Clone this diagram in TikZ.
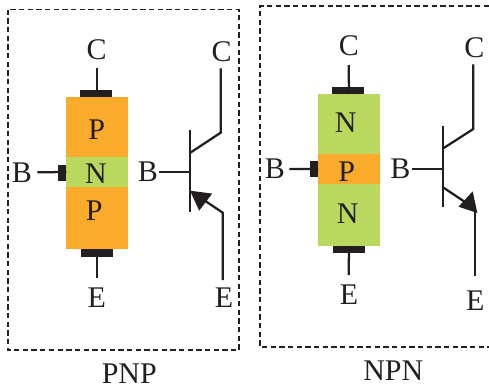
\documentclass[tikz,border=0pt]{standalone}
\usepackage{fontspec}
\setmainfont{Liberation Serif}
\usetikzlibrary{arrows.meta, positioning}
\definecolor{porange}{HTML}{FBAB2B}
\definecolor{ngreen}{HTML}{BAD85E}
\definecolor{inkblack}{HTML}{231F20}
\tikzset{
  frame/.style={draw=inkblack, line width=1.2pt, dash pattern=on 4pt off 2.5pt},
  letter/.style={inner sep=0pt, font=\fontsize{22.5pt}{24pt}\selectfont, text=inkblack},
  region/.style={minimum width=46.5pt, inner sep=0pt, outer sep=0pt},
  contact/.style={fill=inkblack, inner sep=0pt, outer sep=0pt, minimum width=23.8pt, minimum height=5.5pt},
  basecontact/.style={fill=inkblack, inner sep=0pt, outer sep=0pt, minimum width=6pt, minimum height=11.5pt},
  lead/.style={draw=inkblack, line width=1.7pt}
}
\begin{document}
\begin{tikzpicture}[x=0.75pt, y=-0.75pt]
\useasboundingbox (0,0) rectangle (489,389);
% PNP
\draw[frame] (8,9.5) rectangle (239,350);
\node[region, fill=porange, minimum height=45pt] (p1) at (97.3,127.2) {};
\node[region, fill=ngreen, minimum height=22.5pt] (n1) at (97.3,172) {};
\node[region, fill=porange, minimum height=46.7pt] (p2) at (97.3,218.2) {};
\node[letter] (pl1) at (96.7,130) {P};
\node[letter] (nl1) at (96,173.7) {N};
\node[letter] (pl2) at (94.3,211) {P};
\node[contact, anchor=south] (c1) at ([xshift=-1pt]p1.north) {};
\node[contact, anchor=north] (e1) at (p2.south) {};
\node[basecontact, anchor=east] (b1) at ([yshift=-0.7pt]n1.west) {};
\node[letter] (cl1) at (96.7,50) {C};
\node[letter] (el1) at (96.7,297.7) {E};
\node[letter] (bl1) at (22,172.7) {B};
\coordinate (cend1) at (97.3,68.3);
\coordinate (eend1) at (97.3,278.3);
\coordinate (bend1) at (37.3,172.3);
\draw[lead] (p1.north) -- (cend1);
\draw[lead] (p2.south) -- (eend1);
\draw[lead] (n1.west) -- (bend1);
% PNP symbol
\node[letter] (cs1) at (221.7,52) {C};
\node[letter] (es1) at (224,297.7) {E};
\node[letter] (bs1) at (148,171.7) {B};
\coordinate (bar1a) at (190.3,130);
\coordinate (bar1b) at (190.3,212);
\coordinate (bar1m) at (190.3,172.3);
\coordinate (bin1) at (159.3,172.3);
\coordinate (cup1) at (190.3,152.7);
\coordinate (cknee1) at (220.7,132.7);
\coordinate (ctop1) at (220.7,68.3);
\coordinate (eup1) at (195,194);
\coordinate (eknee1) at (222.7,212.7);
\coordinate (ebot1) at (222.7,280);
\draw[lead] (bar1a) -- (bar1b);
\draw[lead] (bin1) -- (bar1m);
\draw[lead] (cup1) -- (cknee1) -- (ctop1);
\draw[lead] (ebot1) -- (eknee1) -- (eup1);
\fill[inkblack] (190,190.7) -- (212.2,193.6) -- (199.2,210.7) -- cycle;
% NPN
\draw[frame] (489,6) -- (260,6) -- (260,347) -- (489,347);
\node[region, fill=ngreen, minimum height=44.8pt] (n2) at (349,123.9) {};
\node[region, fill=porange, minimum height=22.8pt] (p3) at (349,168.9) {};
\node[region, fill=ngreen, minimum height=46.5pt] (n3) at (349,215) {};
\node[letter] (nl2) at (345.7,122.3) {N};
\node[letter] (pl3) at (346.7,171.7) {P};
\node[letter] (nl3) at (347.7,213.3) {N};
\node[contact, anchor=south] (c2) at ([xshift=-1pt]n2.north) {};
\node[contact, anchor=north] (e2) at (n3.south) {};
\node[basecontact, anchor=east] (b2) at (p3.west) {};
\node[letter] (cl2) at (349,46) {C};
\node[letter] (el2) at (349,295) {E};
\node[letter] (bl2) at (275,169) {B};
\coordinate (cend2) at (348.7,65);
\coordinate (eend2) at (348.7,275);
\coordinate (bend2) at (289.3,169);
\draw[lead] (n2.north) -- (cend2);
\draw[lead] (n3.south) -- (eend2);
\draw[lead] (p3.west) -- (bend2);
% NPN symbol
\node[letter] (cs2) at (474.3,47.7) {C};
\node[letter] (es2) at (475.3,300.7) {E};
\node[letter] (bs2) at (400.3,168.3) {B};
\coordinate (bar2a) at (443,126);
\coordinate (bar2b) at (443,207.3);
\coordinate (bar2m) at (443,169);
\coordinate (bin2) at (411.7,169);
\coordinate (cup2) at (443,148.5);
\coordinate (cknee2) at (473.3,129);
\coordinate (ctop2) at (473.3,64.3);
\coordinate (eup2) at (443,187.3);
\coordinate (earrow2) at (468,204);
\coordinate (etip2) at (475.3,210);
\coordinate (ebot2) at (475.3,276);
\draw[lead] (bar2a) -- (bar2b);
\draw[lead] (bin2) -- (bar2m);
\draw[lead] (cup2) -- (cknee2) -- (ctop2);
\draw[lead] (eup2) -- (earrow2);
\draw[lead] (etip2) -- (ebot2);
\fill[inkblack] (477.3,213) -- (458.5,206.7) -- (472.7,191.3) -- cycle;
% captions
\node[letter] (pnp) at (129.3,374) {PNP};
\node[letter] (npn) at (393.3,370.7) {NPN};
\end{tikzpicture}
\end{document}
